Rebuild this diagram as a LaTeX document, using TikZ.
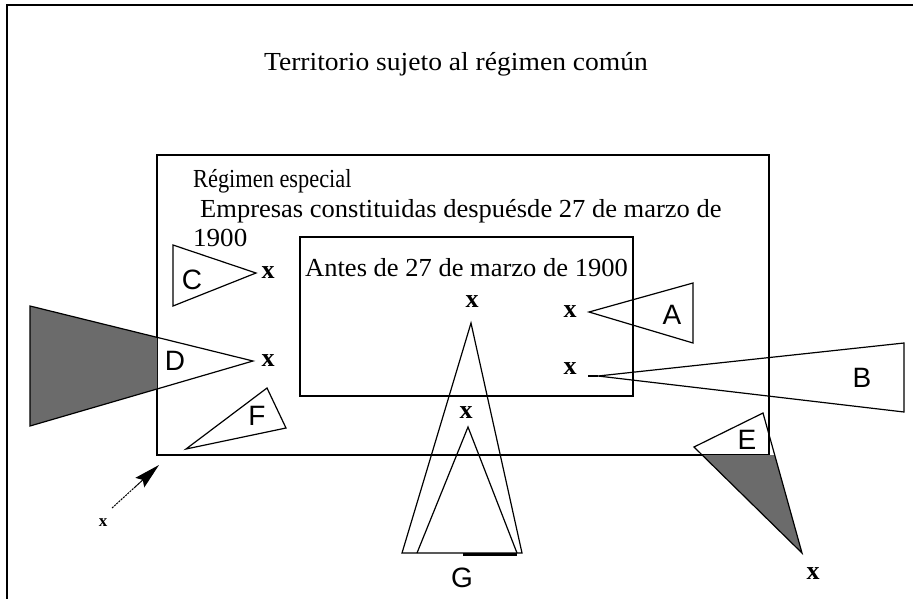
\documentclass[tikz,border=0pt]{standalone}
\usepackage{fontspec}
\setmainfont{Liberation Serif}
\newfontfamily\lsans{Liberation Sans}
\usetikzlibrary{arrows.meta}
\begin{document}
\begin{tikzpicture}[x=1pt,y=-1pt,
  txt/.style={font=\fontsize{26}{30}\selectfont, inner sep=0pt, anchor=base west},
  letter/.style={font=\lsans\fontsize{28}{32}\selectfont, inner sep=0pt},
  xmark/.style={font=\bfseries\fontsize{26}{30}\selectfont, inner sep=0pt},
  edge/.style={line width=1.2pt, line join=miter},
  shade/.style={fill=black!58}]
\useasboundingbox (0,0) rectangle (913,598);
% outer frame
\draw[line width=2pt] (7,600) -- (7,5) -- (915,5);
\node[txt, anchor=base] (title) at (456,70) {\scalebox{1.06}[1]{Territorio sujeto al régimen común}};
% regime box
\draw[line width=1.5pt] (157,155) rectangle (769,455);
\node[txt] (reg) at (193,187) {\scalebox{0.86}[1]{Régimen especial}};
\node[txt] (emp) at (200,217) {\scalebox{1.02}[1]{Empresas constituidas despuésde 27 de marzo de}};
\node[txt] (yr) at (193,246) {\scalebox{1.04}[1]{1900}};
% inner box
\draw[line width=1.5pt] (300,237) rectangle (633,396);
\node[txt] (antes) at (305,276) {\scalebox{1.02}[1]{Antes de 27 de marzo de 1900}};
% C
\draw[edge] (173,245) -- (256,273) -- (173,306) -- cycle;
\node[letter] (lC) at (192,280) {C};
\node[xmark] (xC) at (268,273) {x};
% D
\begin{scope}
\clip (0,0) rectangle (157,598);
\fill[shade] (30,306) -- (253,361) -- (30,426) -- cycle;
\end{scope}
\draw[edge] (30,306) -- (253,361) -- (30,426) -- cycle;
\node[letter] (lD) at (175,361) {D};
\node[xmark] (xD) at (268,361) {x};
% F
\draw[edge] (186,449) -- (267,388) -- (286,428) -- cycle;
\node[letter] (lF) at (257,416) {F};
% A
\draw[edge] (589,312) -- (693,283) -- (693,343) -- cycle;
\node[letter] (lA) at (672,315) {A};
\node[xmark] (xA) at (570,312) {x};
% B
\draw[edge] (598,376) -- (904,343) -- (904,412) -- cycle;
\draw[edge] (588,376) -- (598,376);
\node[letter] (lB) at (862,378) {B};
\node[xmark] (xB) at (570,369) {x};
% E
\begin{scope}
\clip (0,455) rectangle (913,598);
\fill[shade] (694,447) -- (763,413) -- (802,553) -- cycle;
\end{scope}
\draw[edge] (694,447) -- (763,413) -- (802,553) -- cycle;
\node[letter] (lE) at (747,440) {E};
\node[xmark] (xE) at (813,574) {x};
% G
\draw[edge] (402,553) -- (471,323) -- (522,553) -- cycle;
\draw[edge] (417,553) -- (468,427) -- (517,553);
\draw[line width=3pt] (463,554) -- (517,554);
\node[xmark] (xG1) at (472,302) {x};
\node[xmark] (xG2) at (466,413) {x};
\node[letter] (lG) at (462,578) {G};
% arrow
\coordinate (atail) at (112,508);
\coordinate (amid) at (134,488);
\coordinate (ahead) at (159,465);
\draw[line width=1pt, dash pattern=on 2pt off 1pt] (atail) -- (amid);
\draw[line width=1pt, -{Stealth[length=26pt,width=13pt,inset=4pt]}] (amid) -- (ahead);
\node[font=\bfseries\fontsize{17}{19}\selectfont, inner sep=0pt] (xarr) at (103,523) {x};
\end{tikzpicture}
\end{document}
